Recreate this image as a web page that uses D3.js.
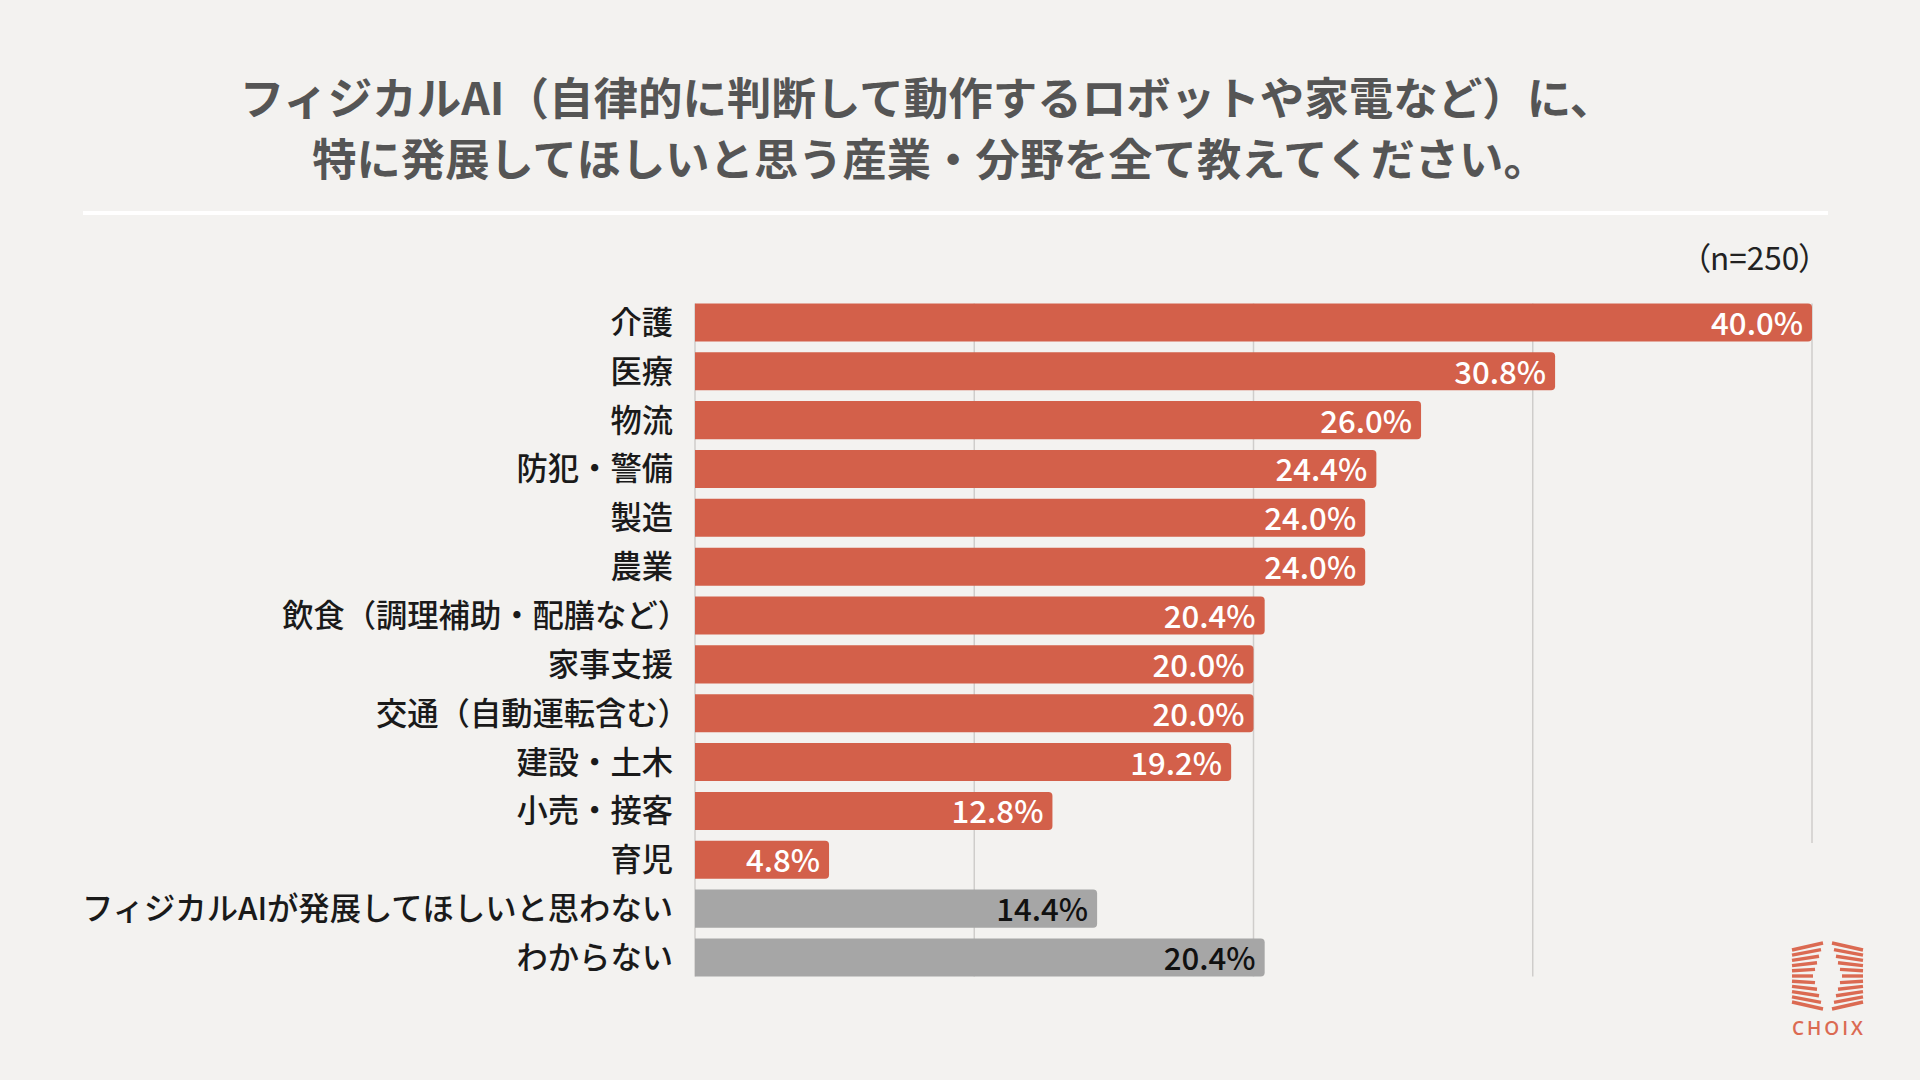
<!DOCTYPE html>
<html>
<head>
<meta charset="utf-8">
<script src="https://cdn.jsdelivr.net/npm/d3@7"></script>
<style>
  html, body { margin: 0; padding: 0; background: #F3F2F0; }
  svg { display: block; }
</style>
</head>
<body>
<div id="chart"></div>
<script>
var W = 1920, H = 1080;

// data
var categories = [
	"介護", "医療", "物流", "防犯・警備", "製造", "農業",
	"飲食（調理補助・配膳など）", "家事支援", "交通（自動運転含む）",
	"建設・土木", "小売・接客", "育児",
	"フィジカルAIが発展してほしいと思わない", "わからない"
];
var values = [40.0, 30.8, 26.0, 24.4, 24.0, 24.0, 20.4, 20.0, 20.0, 19.2, 12.8, 4.8, 14.4, 20.4];
// last two answers are drawn in grey
var isOther = [false, false, false, false, false, false, false, false, false, false, false, false, true, true];
var tickValues = [0, 10, 20, 30, 40];
var titleLines = [
	"フィジカルAI（自律的に判断して動作するロボットや家電など）に、",
	"特に発展してほしいと思う産業・分野を全て教えてください。"
];
var sampleNote = "（n=250）";

var orange = "#D3604A";
var grey = "#A6A6A6";
var font = "'Noto Sans CJK JP', 'Noto Sans', sans-serif";

var svg = d3.select("#chart")
	.append("svg")
	.attr("width", W)
	.attr("height", H);

svg.append("rect")
	.attr("width", W)
	.attr("height", H)
	.attr("fill", "#F3F2F0");

// title
svg.selectAll("text.title")
	.data(titleLines)
	.enter()
	.append("text")
	.attr("class", "title")
	.attr("x", function(d, i) { return i === 0 ? 927 : 930; })
	.attr("y", function(d, i) { return 95 + i * 62; })
	.attr("text-anchor", "middle")
	.attr("dominant-baseline", "central")
	.style("font-family", font)
	.style("font-size", function(d, i) { return i === 0 ? "44.5px" : "44.3px"; })
	.style("font-weight", 700)
	.style("fill", "#555555")
	.text(function(d) { return d; });

svg.append("line")
	.attr("x1", 83).attr("x2", 1828)
	.attr("y1", 213).attr("y2", 213)
	.attr("stroke", "#ffffff")
	.attr("stroke-width", 4);

svg.append("text")
	.attr("x", 1815)
	.attr("y", 256)
	.attr("text-anchor", "end")
	.attr("dominant-baseline", "central")
	.style("font-family", font)
	.style("font-size", "31.5px")
	.style("font-feature-settings", "'palt'")
	.style("fill", "#222")
	.text(sampleNote);

// scales
var x = d3.scaleLinear().domain([0, 40]).range([695, 1812]);
var y = d3.scaleBand()
	.domain(categories)
	.range([298, 298 + 14 * 48.85])
	.paddingInner(0.222)
	.paddingOuter(0.111);

var gridTop = y(categories[0]);
var gridBottom = y(categories[categories.length - 1]) + y.bandwidth();

svg.append("g")
	.attr("class", "grid")
	.selectAll("line")
	.data(tickValues)
	.enter()
	.append("line")
	.attr("x1", function(d) { return x(d); })
	.attr("x2", function(d) { return x(d); })
	.attr("y1", gridTop)
	// the 40% line stops above the logo
	.attr("y2", function(d) { return d === 40 ? 843 : gridBottom; })
	.attr("stroke", "#CFCDCB")
	.attr("stroke-width", 1.5);

function barPath(x0, y0, w, h, r) {
	r = Math.min(r, w / 2);
	return "M" + x0 + "," + y0 +
		"H" + (x0 + w - r) +
		"Q" + (x0 + w) + "," + y0 + " " + (x0 + w) + "," + (y0 + r) +
		"V" + (y0 + h - r) +
		"Q" + (x0 + w) + "," + (y0 + h) + " " + (x0 + w - r) + "," + (y0 + h) +
		"H" + x0 + "Z";
}

var rows = svg.append("g")
	.selectAll("g")
	.data(categories)
	.enter()
	.append("g");

rows.append("path")
	.attr("d", function(d, i) {
		return barPath(x(0), y(d), x(values[i]) - x(0), y.bandwidth(), 4);
	})
	.attr("fill", function(d, i) { return isOther[i] ? grey : orange; });

// a closing bracket at the end sits flush with the other labels
rows.append("text")
	.attr("x", function(d) { return d.slice(-1) === "）" ? 689 : 673; })
	.attr("y", function(d) { return y(d) + y.bandwidth() / 2 - 2; })
	.attr("text-anchor", "end")
	.attr("dominant-baseline", "central")
	.style("font-family", font)
	.style("font-size", "31.3px")
	.style("font-weight", 500)
	.style("fill", "#1a1a1a")
	.text(function(d) { return d; });

rows.append("text")
	.attr("x", function(d, i) { return x(values[i]) - 9; })
	.attr("y", function(d) { return y(d) + y.bandwidth() / 2 - 1; })
	.attr("text-anchor", "end")
	.attr("dominant-baseline", "central")
	.style("font-family", font)
	.style("font-size", "31.2px")
	.style("font-weight", 500)
	.style("fill", function(d, i) { return isOther[i] ? "#111" : "#ffffff"; })
	.text(function(d, i) { return values[i].toFixed(1) + "%"; });

// logo
var logo = svg.append("g").attr("class", "logo");
var logoColor = "#DB6A52";
var stripes = d3.range(11);
stripes.forEach(function(i) {
	var t = (i - 5) / 5;
	var inner = 10 * (1 - Math.abs(t));
	var yo = 976 + t * 26;
	var yi = 976 + t * 33;
	logo.append("line")
		.attr("x1", 1792).attr("y1", yo)
		.attr("x2", 1823 - inner).attr("y2", yi)
		.attr("stroke", logoColor).attr("stroke-width", 3.4);
	logo.append("line")
		.attr("x1", 1863).attr("y1", yo)
		.attr("x2", 1832 + inner).attr("y2", yi)
		.attr("stroke", logoColor).attr("stroke-width", 3.4);
});
logo.append("text")
	.attr("x", 1829)
	.attr("y", 1035)
	.attr("text-anchor", "middle")
	.style("font-family", "'Open Sans', 'Noto Sans', sans-serif")
	.style("font-size", "19px")
	.style("font-weight", 600)
	.style("letter-spacing", "3px")
	.style("fill", logoColor)
	.text("CHOIX");
</script>
</body>
</html>
